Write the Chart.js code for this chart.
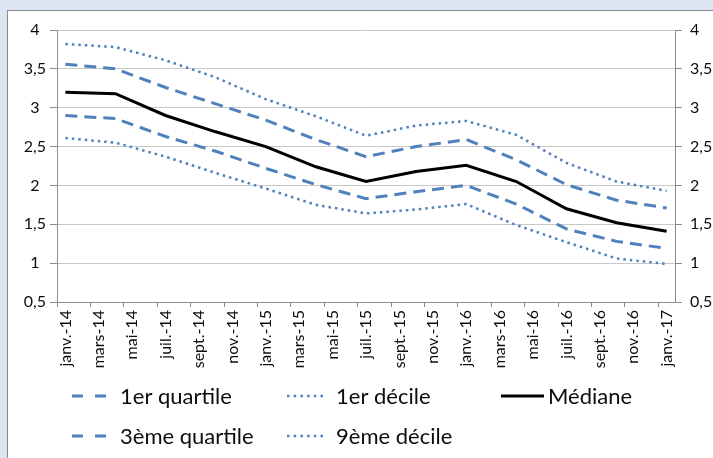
<!DOCTYPE html>
<html>
<head>
<meta charset="utf-8">
<script src="https://cdn.jsdelivr.net/npm/chart.js@4/dist/chart.umd.min.js"></script>
<style>
  html, body { margin: 0; padding: 0; }
  body { width: 713px; height: 458px; background: #dce6f2; position: relative; overflow: hidden; }
  #frame { position: absolute; left: 7px; top: 10px; width: 720px; height: 460px; background: #fff;
           border-left: 1px solid #8a8a8a; border-top: 1px solid #8a8a8a; }
  #wrap { position: absolute; left: 0; top: 0; width: 713px; height: 458px; }
</style>
</head>
<body>
<div id="frame"></div>
<div id="wrap"><canvas id="chart"></canvas></div>
<script>
// monthly axis, labels shown every 2 months
const months = [
  "janv.-14", "févr.-14", "mars-14", "avr.-14", "mai-14", "juin-14", "juil.-14", "août-14", "sept.-14", "oct.-14", "nov.-14", "déc.-14",
  "janv.-15", "févr.-15", "mars-15", "avr.-15", "mai-15", "juin-15", "juil.-15", "août-15", "sept.-15", "oct.-15", "nov.-15", "déc.-15",
  "janv.-16", "févr.-16", "mars-16", "avr.-16", "mai-16", "juin-16", "juil.-16", "août-16", "sept.-16", "oct.-16", "nov.-16", "déc.-16",
  "janv.-17"
];

// quarterly observations
const quarters = [
  "janv.-14", "avr.-14", "juil.-14", "oct.-14",
  "janv.-15", "avr.-15", "juil.-15", "oct.-15",
  "janv.-16", "avr.-16", "juil.-16", "oct.-16",
  "janv.-17"
];

const quartile1 = [2.90, 2.86, 2.63, 2.44, 2.22, 2.01, 1.83, 1.92, 2.00, 1.76, 1.44, 1.28, 1.19];
const decile1   = [2.61, 2.55, 2.37, 2.16, 1.96, 1.75, 1.64, 1.69, 1.76, 1.49, 1.27, 1.06, 0.99];
const mediane   = [3.20, 3.18, 2.90, 2.69, 2.50, 2.24, 2.05, 2.18, 2.26, 2.05, 1.70, 1.52, 1.41];
const quartile3 = [3.56, 3.50, 3.26, 3.05, 2.84, 2.59, 2.37, 2.50, 2.59, 2.33, 2.01, 1.81, 1.71];
const decile9   = [3.82, 3.78, 3.61, 3.39, 3.11, 2.89, 2.64, 2.77, 2.83, 2.65, 2.29, 2.05, 1.93];

const yTicks = [0.5, 1, 1.5, 2, 2.5, 3, 3.5, 4];

const BLUE = '#4f81bd';
const AXIS = '#8c8c8c';
const TEXT = '#0d0d0d';

function points(values) {
  return values.map((v, i) => ({ x: quarters[i], y: v }));
}

function fmt(v) {
  return String(v).replace('.', ',');
}

// legend drawn in a 3 column grid like the original
const legendGrid = {
  id: 'legendGrid',
  afterDraw(chart) {
    const ctx = chart.ctx;
    const sampleX = [72, 287, 501];
    const sampleW = [36, 40, 43];
    const textX = [120, 336, 548];
    const rowY = [396, 436];
    chart.data.datasets.forEach((ds, i) => {
      const col = i % 3, row = Math.floor(i / 3);
      const y = rowY[row];
      ctx.save();
      ctx.strokeStyle = ds.borderColor;
      ctx.lineWidth = ds.borderWidth;
      ctx.lineCap = 'butt';
      ctx.setLineDash(ds.legendDash || []);
      ctx.beginPath();
      ctx.moveTo(sampleX[col], y);
      ctx.lineTo(sampleX[col] + sampleW[col], y);
      ctx.stroke();
      ctx.setLineDash([]);
      ctx.fillStyle = TEXT;
      ctx.font = '22px Lato';
      ctx.textBaseline = 'middle';
      ctx.fillText(ds.label, textX[col], y + 1);
      ctx.restore();
    });
  }
};

const ctx = document.getElementById('chart').getContext('2d');
const chart = new Chart(ctx, {
  type: 'line',
  data: {
    labels: months,
    datasets: [
      { label: '1er quartile', data: points(quartile1), borderColor: BLUE, borderWidth: 3,
        borderDash: [12, 7], legendDash: [11, 12] },
      { label: '1er décile', data: points(decile1), borderColor: BLUE, borderWidth: 2.5,
        borderDash: [2.5, 4], legendDash: [2.5, 4.2] },
      { label: 'Médiane', data: points(mediane), borderColor: '#000', borderWidth: 3 },
      { label: '3ème quartile', data: points(quartile3), borderColor: BLUE, borderWidth: 3,
        borderDash: [12, 7], legendDash: [11, 12] },
      { label: '9ème décile', data: points(decile9), borderColor: BLUE, borderWidth: 2.5,
        borderDash: [2.5, 4], legendDash: [2.5, 4.2] }
    ]
  },
  options: {
    responsive: true,
    maintainAspectRatio: false,
    animation: false,
    layout: { padding: { top: 30, left: 0, right: 0, bottom: 0 } },
    elements: {
      point: { radius: 0 },
      line: { tension: 0, fill: false, borderCapStyle: 'butt' }
    },
    plugins: {
      legend: { display: false },
      tooltip: { enabled: false }
    },
    scales: {
      x: {
        type: 'category',
        offset: true,
        grid: {
          offset: true,
          drawOnChartArea: false,
          drawTicks: true,
          tickLength: 5,
          color: c => (c.index % 2 === 0 ? AXIS : 'rgba(0,0,0,0)')
        },
        border: { display: true, color: AXIS },
        ticks: {
          autoSkip: false,
          minRotation: 90,
          maxRotation: 90,
          padding: 3,
          color: TEXT,
          font: { family: 'Lato', size: 16 },
          callback: function (value, index) {
            return index % 2 === 0 ? this.getLabelForValue(value) : '';
          }
        },
        afterFit: s => { s.height = 156; }
      },
      y: {
        position: 'left',
        min: 0.5,
        max: 4,
        afterBuildTicks: s => { s.ticks = yTicks.map(v => ({ value: v })); },
        grid: { color: '#c8c8c8', tickColor: AXIS, tickLength: 7 },
        border: { display: true, color: AXIS },
        ticks: {
          crossAlign: 'center',
          padding: 4,
          color: TEXT,
          font: { family: 'Lato', size: 16 },
          callback: v => fmt(v)
        },
        afterFit: s => { s.width = 57; }
      },
      y2: {
        position: 'right',
        min: 0.5,
        max: 4,
        afterBuildTicks: s => { s.ticks = yTicks.map(v => ({ value: v })); },
        grid: { drawOnChartArea: false, color: AXIS, tickLength: 7 },
        border: { display: true, color: AXIS },
        ticks: {
          padding: 8,
          color: TEXT,
          font: { family: 'Lato', size: 16 },
          callback: v => fmt(v)
        },
        afterFit: s => { s.width = 38; }
      }
    }
  },
  plugins: [legendGrid]
});
</script>
</body>
</html>
